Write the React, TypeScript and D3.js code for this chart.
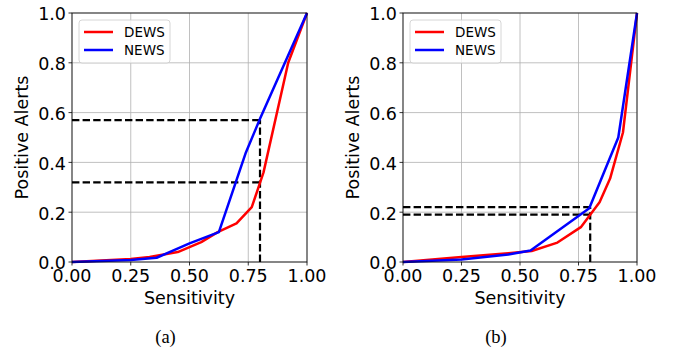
import * as d3 from "d3"

// panel (a)
const sensA_dews = [0, 0.25, 0.33, 0.45, 0.55, 0.62, 0.7, 0.765, 0.815, 0.92, 1.0]
const alertA_dews = [0, 0.012, 0.02, 0.04, 0.08, 0.12, 0.155, 0.22, 0.36, 0.8, 1.0]
const sensA_news = [0, 0.25, 0.36, 0.5, 0.625, 0.74, 0.8, 1.0]
const alertA_news = [0, 0.008, 0.017, 0.075, 0.12, 0.44, 0.575, 1.0]
const cutA = { x: 0.8, ys: [0.57, 0.32] }

// panel (b)
const sensB_dews = [0, 0.25, 0.45, 0.55, 0.66, 0.76, 0.8, 0.84, 0.885, 0.94, 1.0]
const alertB_dews = [0, 0.02, 0.035, 0.044, 0.078, 0.14, 0.19, 0.24, 0.335, 0.52, 1.0]
const sensB_news = [0, 0.25, 0.45, 0.545, 0.796, 0.92, 1.0]
const alertB_news = [0, 0.01, 0.03, 0.046, 0.216, 0.5, 1.0]
const cutB = { x: 0.8, ys: [0.22, 0.19] }

const xTicks = [0, 0.25, 0.5, 0.75, 1.0]
const yTicks = [0, 0.2, 0.4, 0.6, 0.8, 1.0]
const seriesNames = ["DEWS", "NEWS"]
const seriesColors = ["#ff0000", "#0000ff"]

const font = "DejaVu Sans, sans-serif"

type PanelProps = {
    left: number
    right: number
    dews: [number[], number[]]
    news: [number[], number[]]
    cut: { x: number; ys: number[] }
    caption: string
}

function Panel({ left, right, dews, news, cut, caption }: PanelProps) {
    const top = 13
    const bottom = 262
    const x = d3.scaleLinear().domain([0, 1]).range([left, right])
    const y = d3.scaleLinear().domain([0, 1]).range([bottom, top])

    const line = d3.line<[number, number]>().x(d => x(d[0])).y(d => y(d[1]))
    const pts = (s: [number[], number[]]) => s[0].map((v, i) => [v, s[1][i]] as [number, number])

    const yMax = d3.max(cut.ys) as number
    const cx = (left + right) / 2

    return (
        <g>
            {/* grid */}
            {xTicks.map(t => (
                <line key={"gx" + t} x1={x(t)} x2={x(t)} y1={top} y2={bottom} stroke="#b0b0b0" strokeWidth={0.8} />
            ))}
            {yTicks.map(t => (
                <line key={"gy" + t} x1={left} x2={right} y1={y(t)} y2={y(t)} stroke="#b0b0b0" strokeWidth={0.8} />
            ))}

            {/* cut-off lines */}
            {cut.ys.map(v => (
                <line key={"h" + v} x1={x(0)} x2={x(cut.x)} y1={y(v)} y2={y(v)}
                    stroke="#000" strokeWidth={2.2} strokeDasharray="7.4 3.2" />
            ))}
            <line x1={x(cut.x)} x2={x(cut.x)} y1={y(0)} y2={y(yMax)}
                stroke="#000" strokeWidth={2.2} strokeDasharray="7.4 3.2" />

            {/* series */}
            <path d={line(pts(dews)) ?? ""} fill="none" stroke={seriesColors[0]} strokeWidth={2.5} strokeLinejoin="round" />
            <path d={line(pts(news)) ?? ""} fill="none" stroke={seriesColors[1]} strokeWidth={2.5} strokeLinejoin="round" />

            {/* spines */}
            <rect x={left} y={top} width={right - left} height={bottom - top} fill="none" stroke="#000" strokeWidth={0.8} />

            {/* ticks */}
            {xTicks.map(t => (
                <g key={"tx" + t}>
                    <line x1={x(t)} x2={x(t)} y1={bottom} y2={bottom + 3.5} stroke="#000" strokeWidth={0.8} />
                    <text x={x(t)} y={282} textAnchor="middle" fontSize={17.5} fontFamily={font} fill="#000">
                        {t.toFixed(2)}
                    </text>
                </g>
            ))}
            {yTicks.map(t => (
                <g key={"ty" + t}>
                    <line x1={left - 3.5} x2={left} y1={y(t)} y2={y(t)} stroke="#000" strokeWidth={0.8} />
                    <text x={left - 6} y={y(t)} dy="0.42em" textAnchor="end" fontSize={17.5} fontFamily={font} fill="#000">
                        {t.toFixed(1)}
                    </text>
                </g>
            ))}

            {/* axis labels */}
            <text x={cx} y={304} textAnchor="middle" fontSize={17.5} fontFamily={font} fill="#000">Sensitivity</text>
            <text transform={`translate(${left - 44},${(top + bottom) / 2}) rotate(-90)`} textAnchor="middle"
                fontSize={17.5} fontFamily={font} fill="#000">Positive Alerts</text>

            {/* legend */}
            <g transform={`translate(${left + 7},${top + 7})`}>
                <rect x={0} y={0} width={91} height={43} rx={3} fill="#fff" fillOpacity={0.8} stroke="#cccccc" strokeWidth={0.8} />
                {seriesNames.map((n, i) => (
                    <g key={n} transform={`translate(0,${12 + i * 18})`}>
                        <line x1={5} x2={34} y1={0} y2={0} stroke={seriesColors[i]} strokeWidth={2.5} />
                        <text x={45} y={0} dy="0.36em" fontSize={13.5} fontFamily={font} fill="#000">{n}</text>
                    </g>
                ))}
            </g>

            {/* caption */}
            <text x={cx - 24} y={343} textAnchor="middle" fontSize={18.5} fontFamily="Liberation Serif, Times New Roman, serif" fill="#000">
                {caption}
            </text>
        </g>
    )
}

export default function App() {
    return (
        <svg width={674} height={354} style={{ position: "absolute", left: 0, top: 0, background: "#fff" }}>
            <rect width={674} height={354} fill="#fff" />
            <Panel left={72} right={307} dews={[sensA_dews, alertA_dews]} news={[sensA_news, alertA_news]} cut={cutA} caption="(a)" />
            <Panel left={403} right={637} dews={[sensB_dews, alertB_dews]} news={[sensB_news, alertB_news]} cut={cutB} caption="(b)" />
        </svg>
    )
}
